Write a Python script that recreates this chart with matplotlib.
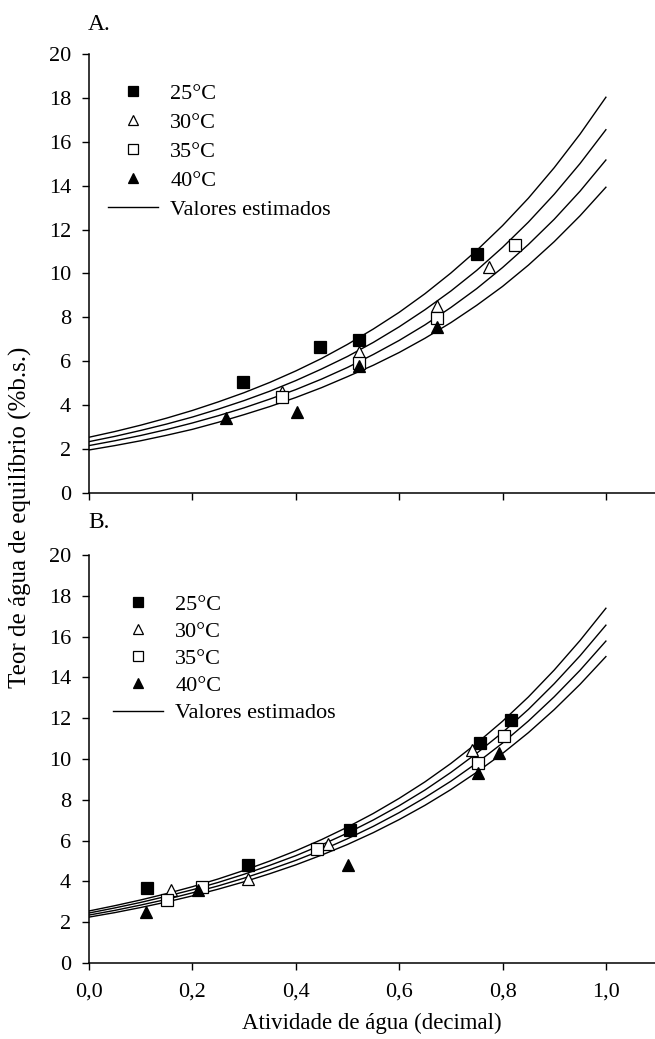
import matplotlib
matplotlib.use('Agg')
import matplotlib.pyplot as plt
from matplotlib.ticker import FixedLocator, FixedFormatter, NullFormatter

plt.rcParams['font.family'] = ['Liberation Serif', 'DejaVu Serif']

# temperaturas / rótulos
temps = ['25°C', '30°C', '35°C', '40°C']
line_label = 'Valores estimados'

# ---------------- painel A: pontos observados ----------------
a_aw = [
    [0.297, 0.447, 0.522, 0.750],
    [0.373, 0.522, 0.674, 0.774],
    [0.373, 0.522, 0.674, 0.825],
    [0.266, 0.403, 0.522, 0.674],
]
a_m = [
    [5.07, 6.64, 6.97, 10.89],
    [4.60, 6.44, 8.52, 10.28],
    [4.36, 5.91, 7.96, 11.30],
    [3.40, 3.68, 5.79, 7.58],
]

# ---------------- painel B: pontos observados ----------------
b_aw = [
    [0.112, 0.308, 0.505, 0.756, 0.817],
    [0.158, 0.308, 0.463, 0.740],
    [0.150, 0.218, 0.442, 0.752, 0.803],
    [0.110, 0.210, 0.502, 0.752, 0.794],
]
b_m = [
    [3.66, 4.80, 6.52, 10.77, 11.91],
    [3.58, 4.10, 5.83, 10.44],
    [3.09, 3.71, 5.57, 9.82, 11.13],
    [2.48, 3.58, 4.80, 9.30, 10.28],
]

# ---------------- valores estimados (passo 0,05) ----------------
aw_curve = [0.00, 0.05, 0.10, 0.15, 0.20, 0.25, 0.30, 0.35, 0.40, 0.45, 0.50,
            0.55, 0.60, 0.65, 0.70, 0.75, 0.80, 0.85, 0.90, 0.95, 1.00]
a_fit = [
    [2.54, 2.80, 3.09, 3.41, 3.76, 4.15, 4.57, 5.04, 5.56, 6.13, 6.77,
     7.47, 8.23, 9.08, 10.02, 11.05, 12.18, 13.43, 14.82, 16.35, 18.03],
    [2.34, 2.58, 2.85, 3.14, 3.46, 3.82, 4.21, 4.64, 5.12, 5.65, 6.22,
     6.86, 7.57, 8.35, 9.20, 10.14, 11.19, 12.34, 13.61, 15.01, 16.55],
    [2.16, 2.38, 2.62, 2.89, 3.19, 3.52, 3.88, 4.28, 4.71, 5.19, 5.72,
     6.31, 6.95, 7.66, 8.45, 9.31, 10.27, 11.32, 12.47, 13.75, 15.17],
    [1.96, 2.16, 2.38, 2.63, 2.90, 3.22, 3.57, 3.94, 4.35, 4.80, 5.30,
     5.82, 6.40, 7.05, 7.76, 8.55, 9.41, 10.38, 11.45, 12.63, 13.93],
]
b_fit = [
    [2.55, 2.81, 3.09, 3.40, 3.74, 4.12, 4.54, 5.00, 5.50, 6.05, 6.66,
     7.33, 8.07, 8.88, 9.78, 10.77, 11.85, 13.04, 14.36, 15.81, 17.39],
    [2.45, 2.70, 2.97, 3.27, 3.59, 3.95, 4.35, 4.79, 5.26, 5.79, 6.37,
     7.01, 7.71, 8.48, 9.34, 10.28, 11.30, 12.43, 13.69, 15.06, 16.56],
    [2.35, 2.58, 2.84, 3.12, 3.44, 3.78, 4.16, 4.58, 5.03, 5.53, 6.09,
     6.70, 7.37, 8.11, 8.91, 9.80, 10.78, 11.86, 13.05, 14.35, 15.78],
    [2.25, 2.47, 2.72, 2.99, 3.29, 3.62, 3.98, 4.38, 4.81, 5.29, 5.81,
     6.39, 7.03, 7.73, 8.50, 9.35, 10.27, 11.29, 12.42, 13.66, 15.02],
]

x_ticks = [0.0, 0.2, 0.4, 0.6, 0.8, 1.0]
x_ticklabels = ['0,0', '0,2', '0,4', '0,6', '0,8', '1,0']
y_ticks = [0, 2, 4, 6, 8, 10, 12, 14, 16, 18, 20]

markers = ['s', '^', 's', '^']
sizes = [8.5, 8.5, 8.5, 8.5]
faces = ['black', 'white', 'white', 'black']

fs = 16
fig = plt.figure(figsize=(6.55, 10.39), dpi=100)
ax_a = fig.add_axes([89 / 655, 1 - 493 / 1039, 566 / 655, 439 / 1039])
ax_b = fig.add_axes([89 / 655, 1 - 963 / 1039, 566 / 655, 408 / 1039])


def draw(ax, aws, ms, fits, leg_anchor, spacing):
    handles = []
    for i in range(4):
        ax.plot(aw_curve, fits[i], color='black', lw=1.0, zorder=2,
                solid_joinstyle='round')
    for i in range(4):
        h, = ax.plot(aws[i], ms[i], linestyle='none', marker=markers[i],
                     markersize=sizes[i], markerfacecolor=faces[i],
                     markeredgecolor='black', markeredgewidth=0.9,
                     label=temps[i], zorder=3)
        handles.append(h)
    lh, = ax.plot([], [], color='black', lw=1.0, label=line_label)
    handles.append(lh)
    ax.legend(handles=handles, loc='upper left', bbox_to_anchor=leg_anchor,
              bbox_transform=fig.transFigure, frameon=False, fontsize=fs,
              borderpad=0, borderaxespad=0, handlelength=2.25,
              handletextpad=0.55, labelspacing=spacing, markerscale=0.8)

    ax.set_xlim(0, 1.095)
    ax.set_ylim(0, 20)
    for s in ['top', 'right']:
        ax.spines[s].set_visible(False)
    for s in ['left', 'bottom']:
        ax.spines[s].set_linewidth(1.1)
    ax.xaxis.set_major_locator(FixedLocator(x_ticks))
    ax.yaxis.set_major_locator(FixedLocator(y_ticks))
    ax.tick_params(axis='both', direction='out', length=5, width=1.0,
                   labelsize=fs)
    ax.tick_params(axis='y', pad=8)
    ax.tick_params(axis='x', pad=9)


draw(ax_a, a_aw, a_m, a_fit, (108 / 655, 1 - 83 / 1039), 0.38)
draw(ax_b, b_aw, b_m, b_fit, (113 / 655, 1 - 594 / 1039), 0.30)

ax_a.xaxis.set_major_formatter(NullFormatter())
ax_b.xaxis.set_major_formatter(FixedFormatter(x_ticklabels))
ax_b.set_xlabel('Atividade de água (decimal)', fontsize=16.5, labelpad=8)

fig.text(88 / 655, 1 - 25 / 1039, 'A.', fontsize=17, ha='left', va='center')
fig.text(88 / 655, 1 - 523 / 1039, 'B.', fontsize=17, ha='left', va='center')
fig.text(20 / 655, 1 - 517 / 1039, 'Teor de água de equilíbrio (%b.s.)',
         fontsize=18, rotation=90, ha='center', va='center')

fig.savefig('out.png', dpi=100)
